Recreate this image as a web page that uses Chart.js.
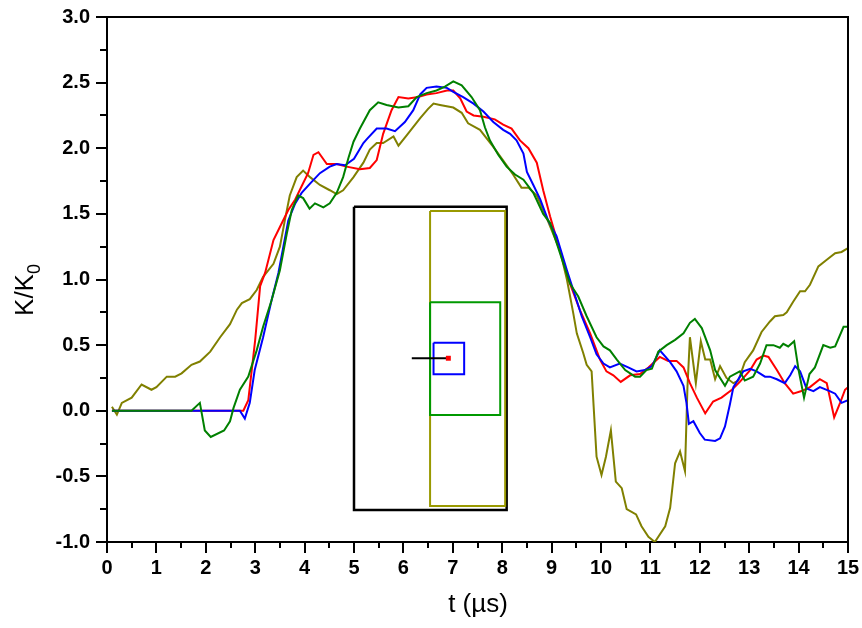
<!DOCTYPE html>
<html><head><meta charset="utf-8">
<script src="https://cdn.jsdelivr.net/npm/chart.js@4.4.1/dist/chart.umd.min.js"></script>
<style>html,body{margin:0;padding:0;background:#fff}canvas{display:block}</style>
</head><body>
<canvas id="c" width="862" height="628"></canvas>
<script>
// ---- Data (t in µs, K/K0) ----
const xTickValues = [0,1,2,3,4,5,6,7,8,9,10,11,12,13,14,15];
const yTickValues = [-1.0,-0.5,0.0,0.5,1.0,1.5,2.0,2.5,3.0];
const xTitle = 't (µs)';
const yTitleMain = 'K/K';
const yTitleSub = '0';

const redSeries = [[0.1,0],[2.76,0],[2.86,0.08],[3.0,0.54],[3.1,0.95],[3.2,1.05],[3.37,1.30],[3.5,1.40],[3.67,1.53],[3.81,1.61],[3.94,1.71],[4.07,1.81],[4.18,1.95],[4.28,1.97],[4.45,1.88],[4.65,1.88],[4.85,1.86],[5.12,1.84],[5.32,1.85],[5.46,1.91],[5.59,2.11],[5.76,2.29],[5.9,2.39],[6.1,2.38],[6.3,2.39],[6.47,2.41],[6.67,2.42],[6.88,2.44],[7.01,2.44],[7.15,2.38],[7.28,2.28],[7.42,2.25],[7.62,2.24],[7.85,2.22],[8.02,2.18],[8.19,2.15],[8.36,2.06],[8.53,2.0],[8.7,1.89],[8.83,1.68],[8.97,1.48],[9.17,1.22],[9.37,0.97],[9.57,0.77],[9.78,0.59],[9.98,0.39],[10.11,0.30],[10.25,0.27],[10.4,0.22],[10.59,0.27],[10.79,0.28],[10.96,0.33],[11.19,0.41],[11.36,0.38],[11.53,0.38],[11.67,0.33],[11.8,0.21],[11.94,0.10],[12.11,-0.02],[12.27,0.07],[12.44,0.10],[12.65,0.16],[12.81,0.22],[13.02,0.31],[13.15,0.39],[13.29,0.42],[13.39,0.41],[13.56,0.31],[13.72,0.21],[13.89,0.13],[14.06,0.15],[14.23,0.18],[14.43,0.24],[14.57,0.21],[14.72,-0.05],[14.84,0.06],[14.94,0.16],[15.0,0.18]];

const blueSeries = [[0.1,0],[2.69,0],[2.79,-0.06],[2.89,0.06],[2.99,0.31],[3.16,0.56],[3.33,0.84],[3.47,1.05],[3.57,1.25],[3.67,1.45],[3.81,1.58],[3.94,1.66],[4.11,1.73],[4.31,1.81],[4.51,1.86],[4.65,1.88],[4.82,1.87],[5.0,1.92],[5.19,2.04],[5.26,2.07],[5.46,2.15],[5.66,2.15],[5.83,2.13],[6.03,2.20],[6.2,2.29],[6.34,2.41],[6.47,2.46],[6.67,2.47],[6.88,2.46],[7.01,2.43],[7.21,2.39],[7.42,2.34],[7.62,2.28],[7.82,2.20],[8.02,2.14],[8.16,2.11],[8.29,2.06],[8.43,1.96],[8.5,1.82],[8.63,1.72],[8.77,1.61],[8.93,1.45],[9.1,1.33],[9.31,1.07],[9.61,0.72],[9.78,0.56],[9.91,0.43],[10.05,0.36],[10.18,0.33],[10.38,0.36],[10.55,0.33],[10.72,0.30],[10.89,0.31],[11.03,0.34],[11.19,0.46],[11.4,0.37],[11.53,0.30],[11.67,0.19],[11.73,0.06],[11.78,-0.10],[11.87,-0.08],[12.0,-0.17],[12.1,-0.22],[12.31,-0.23],[12.41,-0.21],[12.51,-0.12],[12.61,0.05],[12.68,0.18],[12.88,0.30],[13.02,0.32],[13.15,0.30],[13.32,0.26],[13.42,0.26],[13.56,0.24],[13.72,0.21],[13.83,0.27],[13.93,0.34],[14.03,0.30],[14.16,0.17],[14.3,0.15],[14.43,0.18],[14.63,0.15],[14.74,0.13],[14.87,0.06],[15.0,0.08]];

const greenSeries = [[0.1,0],[1.71,0],[1.88,0.06],[1.98,-0.15],[2.1,-0.20],[2.37,-0.15],[2.49,-0.08],[2.56,0.02],[2.69,0.16],[2.86,0.26],[3.03,0.46],[3.16,0.64],[3.33,0.84],[3.5,1.07],[3.64,1.35],[3.74,1.53],[3.87,1.64],[3.97,1.62],[4.1,1.54],[4.21,1.58],[4.38,1.55],[4.51,1.58],[4.65,1.66],[4.78,1.78],[4.89,1.93],[4.99,2.05],[5.12,2.15],[5.32,2.29],[5.49,2.35],[5.66,2.33],[5.9,2.31],[6.1,2.32],[6.27,2.39],[6.47,2.42],[6.67,2.44],[6.84,2.47],[7.01,2.51],[7.18,2.48],[7.38,2.39],[7.55,2.29],[7.65,2.16],[7.75,2.06],[7.92,1.95],[8.09,1.86],[8.26,1.80],[8.43,1.76],[8.63,1.66],[8.83,1.50],[8.97,1.43],[9.17,1.20],[9.37,0.97],[9.54,0.87],[9.71,0.72],[9.91,0.56],[10.05,0.49],[10.18,0.46],[10.32,0.39],[10.49,0.31],[10.69,0.26],[10.79,0.26],[10.92,0.31],[11.03,0.32],[11.16,0.45],[11.33,0.50],[11.5,0.54],[11.67,0.59],[11.8,0.67],[11.9,0.70],[12.04,0.63],[12.21,0.46],[12.31,0.31],[12.51,0.19],[12.61,0.26],[12.81,0.30],[12.91,0.23],[13.08,0.26],[13.22,0.36],[13.35,0.50],[13.49,0.50],[13.62,0.48],[13.69,0.51],[13.79,0.49],[13.91,0.53],[14.0,0.31],[14.11,0.10],[14.22,0.28],[14.33,0.33],[14.5,0.50],[14.64,0.48],[14.74,0.49],[14.91,0.64],[15.0,0.64]];

const oliveSeries = [[0.1,0.03],[0.2,-0.03],[0.3,0.06],[0.5,0.10],[0.7,0.20],[0.9,0.16],[1.0,0.18],[1.21,0.26],[1.38,0.26],[1.51,0.285],[1.71,0.35],[1.88,0.375],[2.09,0.45],[2.29,0.56],[2.49,0.66],[2.63,0.77],[2.73,0.82],[2.89,0.85],[3.03,0.92],[3.16,1.02],[3.37,1.12],[3.5,1.25],[3.6,1.45],[3.7,1.64],[3.84,1.78],[3.97,1.83],[4.11,1.78],[4.31,1.72],[4.51,1.68],[4.65,1.65],[4.78,1.68],[4.99,1.78],[5.19,1.89],[5.32,1.99],[5.46,2.04],[5.59,2.04],[5.8,2.09],[5.9,2.02],[6.07,2.10],[6.34,2.23],[6.5,2.30],[6.61,2.34],[6.74,2.33],[7.01,2.31],[7.18,2.27],[7.31,2.19],[7.55,2.14],[7.82,2.01],[8.09,1.87],[8.22,1.80],[8.39,1.70],[8.53,1.70],[8.7,1.64],[8.9,1.47],[9.17,1.22],[9.31,1.0],[9.44,0.74],[9.51,0.59],[9.64,0.44],[9.71,0.35],[9.81,0.30],[9.91,-0.35],[10.01,-0.49],[10.1,-0.35],[10.2,-0.15],[10.3,-0.54],[10.42,-0.59],[10.52,-0.75],[10.71,-0.79],[10.82,-0.88],[10.96,-0.96],[11.09,-1.0],[11.3,-0.88],[11.4,-0.74],[11.5,-0.40],[11.6,-0.31],[11.7,-0.46],[11.75,0.18],[11.8,0.56],[11.92,0.21],[12.02,0.53],[12.11,0.39],[12.21,0.39],[12.31,0.24],[12.41,0.34],[12.54,0.25],[12.68,0.21],[12.78,0.23],[12.91,0.37],[13.08,0.46],[13.25,0.60],[13.42,0.68],[13.52,0.72],[13.69,0.73],[13.76,0.75],[13.89,0.83],[14.03,0.91],[14.13,0.91],[14.23,0.96],[14.4,1.10],[14.57,1.15],[14.74,1.20],[14.87,1.21],[15.0,1.24]];

// Inset schematic (data coordinates)
const insetBlackBox = [[5.0,1.555],[8.09,1.555],[8.09,-0.756],[5.0,-0.756],[5.0,1.555]];
const insetOliveBox = [[6.54,1.522],[8.06,1.522],[8.06,-0.726],[6.54,-0.726],[6.54,1.522]];
const insetGreenBox = [[6.54,0.826],[7.96,0.826],[7.96,-0.033],[6.54,-0.033],[6.54,0.826]];
const insetBlueBox  = [[6.61,0.519],[7.23,0.519],[7.23,0.279],[6.61,0.279],[6.61,0.519]];
const insetArrow    = [[6.17,0.40],[6.91,0.40]];
const insetRedDot   = [[6.91,0.40]];

const toXY = arr => arr.map(p => ({x:p[0], y:p[1]}));
const FONT = '"Liberation Sans", Arial, Helvetica, sans-serif';

const line = (data, color, width, order) => ({
  data: toXY(data), borderColor: color, backgroundColor: color, borderWidth: width,
  showLine: true, pointRadius: 0, pointHoverRadius: 0, tension: 0, fill: false, order: order
});

const decor = {
  id: 'decor',
  afterDraw(chart) {
    const {ctx, chartArea: a, scales: {x, y}} = chart;
    ctx.save();
    ctx.strokeStyle = '#000';
    ctx.lineWidth = 2;
    ctx.beginPath();
    ctx.moveTo(a.left, a.top); ctx.lineTo(a.right, a.top); ctx.lineTo(a.right, a.bottom);
    ctx.stroke();
    ctx.beginPath();
    for (let i = 0; i <= 16; i++) {
      const v = -1 + i * 0.25;
      const py = Math.round(y.getPixelForValue(v));
      const len = (i % 2 === 0) ? 11 : 7;
      ctx.moveTo(a.left - len, py); ctx.lineTo(a.left, py);
    }
    for (let i = 0; i <= 30; i++) {
      const t = i * 0.5;
      const px = Math.round(x.getPixelForValue(t));
      const len = (i % 2 === 0) ? 11 : 6;
      ctx.moveTo(px, a.bottom); ctx.lineTo(px, a.bottom + len);
    }
    ctx.stroke();
    ctx.fillStyle = '#000';
    ctx.font = '26px ' + FONT;
    ctx.textAlign = 'center';
    ctx.textBaseline = 'alphabetic';
    ctx.fillText(xTitle, 478, 612);
    ctx.save();
    ctx.translate(33, 290);
    ctx.rotate(-Math.PI / 2);
    ctx.font = '26px ' + FONT;
    const w = ctx.measureText(yTitleMain).width;
    ctx.font = '18px ' + FONT;
    const ws = ctx.measureText(yTitleSub).width;
    const x0 = -(w + ws) / 2;
    ctx.textAlign = 'left';
    ctx.font = '26px ' + FONT;
    ctx.fillText(yTitleMain, x0, 0);
    ctx.font = '18px ' + FONT;
    ctx.fillText(yTitleSub, x0 + w, 7);
    ctx.restore();
    ctx.restore();
  }
};

const redDot = Object.assign(line(insetRedDot, '#ff0000', 1, 0), {
  showLine: false, pointRadius: 3.5, pointStyle: 'rect', pointBorderWidth: 0
});

new Chart(document.getElementById('c'), {
  type: 'scatter',
  data: {
    datasets: [
      redDot,
      line(insetArrow, '#000000', 2, 1),
      line(insetBlueBox, '#0000ff', 2, 2),
      line(insetGreenBox, '#009900', 2, 3),
      line(insetOliveBox, '#999900', 2, 4),
      line(insetBlackBox, '#000000', 2.5, 5),
      line(greenSeries, '#008000', 2, 6),
      line(blueSeries, '#0000ff', 2, 7),
      line(redSeries, '#ff0000', 2, 8),
      line(oliveSeries, '#808000', 2, 9)
    ]
  },
  options: {
    responsive: false,
    animation: false,
    events: [],
    layout: { padding: { top: 17, right: 14, left: 0, bottom: 0 } },
    plugins: { legend: { display: false }, tooltip: { enabled: false } },
    scales: {
      x: {
        type: 'linear', min: 0, max: 15,
        afterFit: s => { s.height = 86; s.paddingLeft = 0; s.paddingRight = 0; },
        afterBuildTicks: s => { s.ticks = xTickValues.map(v => ({value: v})); },
        grid: { display: false, drawTicks: false },
        border: { display: true, color: '#000', width: 2 },
        ticks: { color: '#000', padding: 14, maxRotation: 0, font: { family: FONT, size: 20, weight: 'bold' },
                 callback: v => String(v) }
      },
      y: {
        type: 'linear', min: -1, max: 3,
        afterFit: s => { s.width = 107; s.paddingTop = 0; s.paddingBottom = 0; },
        afterBuildTicks: s => { s.ticks = yTickValues.map(v => ({value: v})); },
        grid: { display: false, drawTicks: false },
        border: { display: true, color: '#000', width: 2 },
        ticks: { color: '#000', padding: 17, font: { family: FONT, size: 20, weight: 'bold' },
                 callback: v => Number(v).toFixed(1) }
      }
    }
  },
  plugins: [decor]
});
</script>
</body></html>
